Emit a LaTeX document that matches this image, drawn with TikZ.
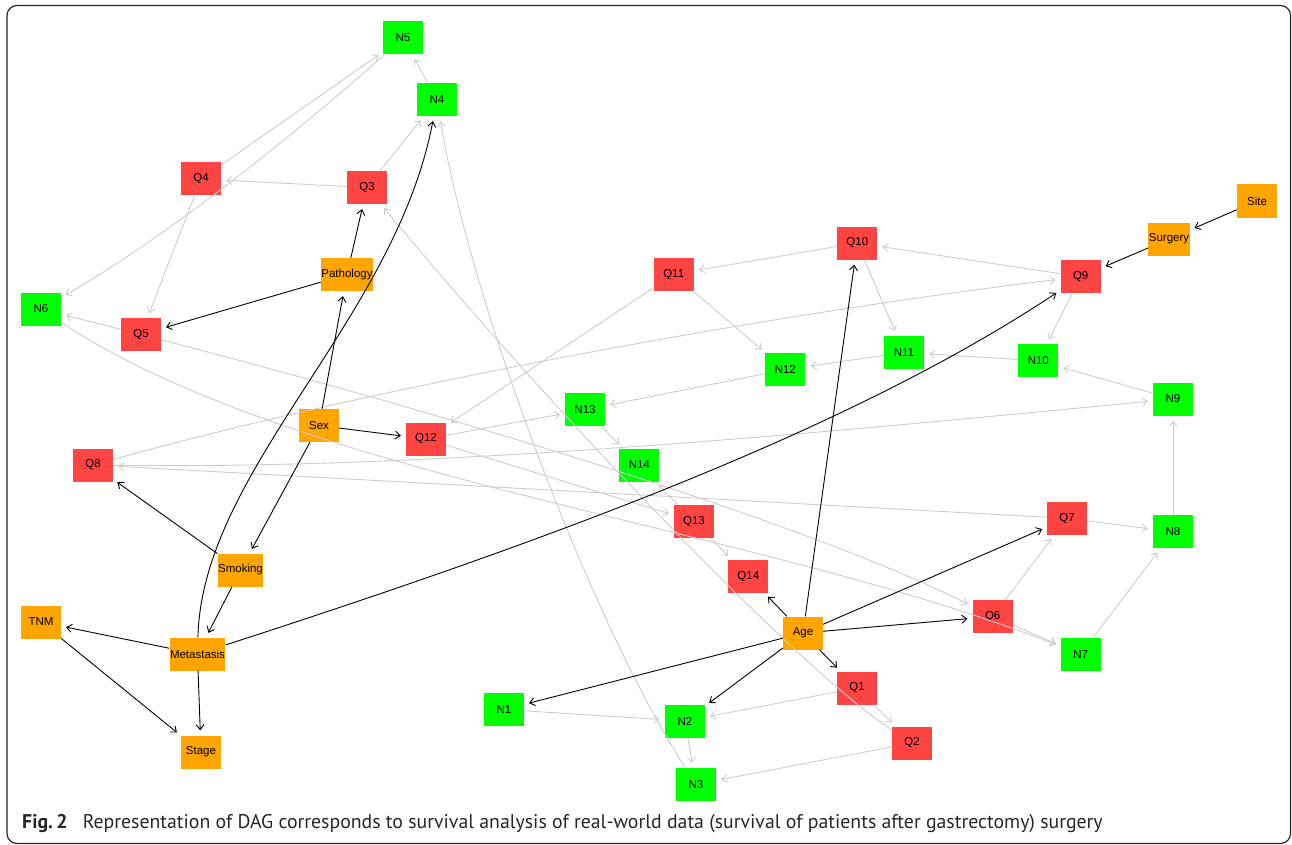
\documentclass[tikz,border=0pt]{standalone}
\usepackage{fontspec}
\setmainfont{Liberation Sans}
\newfontfamily\capfont{PT Sans}
\usetikzlibrary{arrows.meta}

\definecolor{qred}{HTML}{FF4444}
\definecolor{ngreen}{HTML}{00FF00}
\definecolor{corange}{HTML}{FFA500}
\definecolor{linkgray}{HTML}{CCCCCC}

\tikzset{
    var/.style={minimum width=40pt, minimum height=33pt, inner sep=0.5pt,
        font=\fontsize{11.5}{12}\selectfont},
    qvar/.style={var, fill=qred},
    nvar/.style={var, fill=ngreen},
    cvar/.style={var, fill=corange},
    link/.style={draw=linkgray, line width=0.9pt,
        -{Straight Barb[length=5pt,width=8pt]}, shorten >=5pt},
    mainlink/.style={link, draw=black}
}

\begin{document}
\begin{tikzpicture}[x=1pt, y=-1pt]
    \useasboundingbox (0,0) rectangle (1292,845);
    \draw[rounded corners=10pt, line width=1.2pt, black!85] (7,5.5) rectangle (1290.5,843.5);

    % covariates
    \node[cvar] (site) at (1257,201) {Site};
    \node[cvar] (surgery) at (1169,239) {Surgery};
    \node[cvar] (pathology) at (347,274.5) {Pathology};
    \node[cvar] (sex) at (319,425.5) {Sex};
    \node[cvar] (smoking) at (240.5,570) {Smoking};
    \node[cvar] (tnm) at (41,622) {TNM};
    \node[cvar] (metastasis) at (197.5,654) {Metastasis};
    \node[cvar] (stage) at (201,752) {Stage};
    \node[cvar] (age) at (803,633) {Age};

    % questions
    \node[qvar] (q1) at (857,688) {Q1};
    \node[qvar] (q2) at (912,743) {Q2};
    \node[qvar] (q3) at (367,187.5) {Q3};
    \node[qvar] (q4) at (201,179) {Q4};
    \node[qvar] (q5) at (141,334.5) {Q5};
    \node[qvar] (q6) at (992.7,616.5) {Q6};
    \node[qvar] (q7) at (1067,518.3) {Q7};
    \node[qvar] (q8) at (93,465) {Q8};
    \node[qvar] (q9) at (1080.7,276.8) {Q9};
    \node[qvar] (q10) at (857.3,243) {Q10};
    \node[qvar] (q11) at (673.7,274.3) {Q11};
    \node[qvar] (q12) at (426,439) {Q12};
    \node[qvar] (q13) at (694,521.3) {Q13};
    \node[qvar] (q14) at (748.3,576.3) {Q14};

    % outcomes
    \node[nvar] (n1) at (504,709.5) {N1};
    \node[nvar] (n2) at (685,721) {N2};
    \node[nvar] (n3) at (696,784.3) {N3};
    \node[nvar] (n4) at (437,99.5) {N4};
    \node[nvar] (n5) at (403,38) {N5};
    \node[nvar] (n6) at (41,309) {N6};
    \node[nvar] (n7) at (1080.7,654.2) {N7};
    \node[nvar] (n8) at (1173,531.8) {N8};
    \node[nvar] (n9) at (1173,399) {N9};
    \node[nvar] (n10) at (1038.3,360.7) {N10};
    \node[nvar] (n11) at (904,352.5) {N11};
    \node[nvar] (n12) at (785.3,369.7) {N12};
    \node[nvar] (n13) at (585,409.7) {N13};
    \node[nvar] (n14) at (639.3,465) {N14};

    % gray links
    \draw[link] (q4) -- (n5);
    \draw[link] (n4) -- (n5);
    \draw[link] (q3) -- (n4);
    \draw[link] (q3) -- (q4);
    \draw[link] (q4) -- (q5);
    \draw[link] (q5) -- (n6);
    \draw[link] (n5) .. controls (300,130) and (170,235) .. (n6);
    \draw[link] (n3) .. controls (590,620) and (470,300) .. (n4);
    \draw[link] (q2) .. controls (800,670) and (560,420) .. (q3);
    \draw[link] (q5) .. controls (450,415) and (800,520) .. (q6);
    \draw[link] (q8) .. controls (400,380) and (800,310) .. (q9);
    \draw[link] (q8) .. controls (450,470) and (850,430) .. (n9);
    \draw[link] (n6) .. controls (300,480) and (750,525) .. (n7);
    \draw[link] (q7) -- (q8);
    \draw[link] (q10) -- (q11);
    \draw[link] (q11) -- (q12);
    \draw[link] (q11) -- (n12);
    \draw[link] (q10) -- (n11);
    \draw[link] (q9) -- (q10);
    \draw[link] (q9) -- (n10);
    \draw[link] (n9) -- (n10);
    \draw[link] (n10) -- (n11);
    \draw[link] (n11) -- (n12);
    \draw[link] (n12) -- (n13);
    \draw[link] (q12) -- (n13);
    \draw[link] (n13) -- (n14);
    \draw[link] (q12) -- (q13);
    \draw[link] (q13) -- (n14);
    \draw[link] (q13) -- (q14);
    \draw[link] (q6) -- (q7);
    \draw[link] (q6) -- (n7);
    \draw[link] (n7) -- (n8);
    \draw[link] (q7) -- (n8);
    \draw[link] (n8) -- (n9);
    \draw[link] (q1) -- (n2);
    \draw[link] (q1) -- (q2);
    \draw[link] (n1) -- (n2);
    \draw[link] (n2) -- (n3);
    \draw[link] (q2) -- (n3);

    % black links
    \draw[mainlink] (sex) -- (pathology);
    \draw[mainlink] (sex) -- (q12);
    \draw[mainlink] (sex) -- (smoking);
    \draw[mainlink] (pathology) -- (q3);
    \draw[mainlink] (pathology) -- (q5);
    \draw[mainlink] (smoking) -- (q8);
    \draw[mainlink] (smoking) -- (metastasis);
    \draw[mainlink] (metastasis) -- (tnm);
    \draw[mainlink] (metastasis) -- (stage);
    \draw[mainlink] (tnm) -- (stage);
    \draw[mainlink] (metastasis) .. controls (202,470) and (395,320) .. (n4);
    \draw[mainlink] (metastasis) .. controls (550,540) and (850,430) .. (q9);
    \draw[mainlink] (site) -- (surgery);
    \draw[mainlink] (surgery) -- (q9);
    \draw[mainlink] (age) -- (q14);
    \draw[mainlink] (age) -- (q10);
    \draw[mainlink] (age) -- (q7);
    \draw[mainlink] (age) -- (q6);
    \draw[mainlink] (age) -- (q1);
    \draw[mainlink] (age) -- (n2);
    \draw[mainlink] (age) -- (n1);

    \node[anchor=base west, inner sep=0pt, font=\capfont\fontsize{19.8}{22}\selectfont, text=black!85] (caption) at (22,828)
        {\textbf{Fig.\,2}\hspace{0.5em} Representation of DAG corresponds to survival analysis of real-world data (survival of patients after gastrectomy) surgery};
\end{tikzpicture}
\end{document}
